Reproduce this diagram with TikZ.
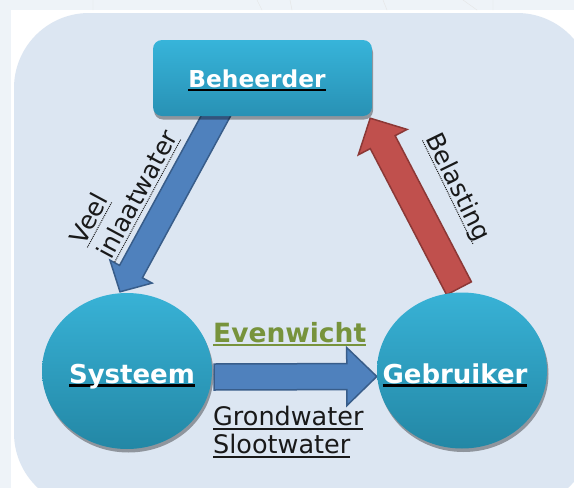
\documentclass[tikz,border=0pt]{standalone}
\usepackage{fontspec}
\setmainfont{DejaVu Sans}
\usetikzlibrary{calc,shapes.geometric,shadows}

\definecolor{outerblue}{RGB}{238,243,248}
\definecolor{panelblue}{RGB}{220,230,242}
\definecolor{boxtop}{RGB}{55,180,218}
\definecolor{boxbot}{RGB}{40,145,180}
\definecolor{ringtop}{RGB}{56,178,214}
\definecolor{ringbot}{RGB}{35,135,165}
\definecolor{flowblue}{RGB}{79,129,189}
\definecolor{flowblueline}{RGB}{56,93,138}
\definecolor{loadred}{RGB}{192,80,77}
\definecolor{loadredline}{RGB}{140,56,54}
\definecolor{balancegreen}{RGB}{119,147,60}
\definecolor{inkdark}{RGB}{25,25,25}

\pgfdeclarelayer{back}
\pgfdeclarelayer{mid}
\pgfsetlayers{back,mid,main}

% solid underline: colour, thickness, text
\newcommand{\solidul}[3]{\setbox0=\hbox{#3}\rlap{\color{#1}\rule[-4pt]{\wd0}{#2}}\box0}
% dotted underline
\newcommand{\dotul}[1]{\setbox0=\hbox{#1}\rlap{\raisebox{-4pt}{\hbox to \wd0{\leaders\hbox to 2pt{\hss\rule{1pt}{1pt}\hss}\hfill}}}\box0}
% block arrow: style, from, to, half body, half head, head length
\newcommand{\blockarrow}[6]{%
  \coordinate (hb) at ($(#3)!#6!(#2)$);
  \path[#1] ($(#2)!#4!90:(#3)$) -- ($(hb)!#4!-90:(#2)$) -- ($(hb)!#5!-90:(#2)$) -- (#3)
    -- ($(hb)!#5!90:(#2)$) -- ($(hb)!#4!90:(#2)$) -- ($(#2)!#4!-90:(#3)$) -- cycle;}

\begin{document}
\begin{tikzpicture}[x=1pt,y=-1pt,
    headbox/.style={rectangle,rounded corners=9pt,minimum width=219pt,minimum height=76pt,
      top color=boxtop,bottom color=boxbot,
      drop shadow={shadow xshift=1pt,shadow yshift=-3.5pt,opacity=.35,fill=black}},
    ringnode/.style={ellipse,minimum width=170pt,minimum height=156pt,
      top color=ringtop,bottom color=ringbot,
      drop shadow={shadow xshift=1.5pt,shadow yshift=-3.5pt,opacity=.35,fill=black}},
    nametext/.style={inner sep=0pt,anchor=base,text=white,font=\fontsize{26}{30}\selectfont\bfseries},
    flowtext/.style={inner sep=0pt,anchor=base west,text=inkdark,font=\fontsize{25}{31}\selectfont},
    bluearrow/.style={fill=flowblue,draw=flowblueline,line width=1.5pt},
    redarrow/.style={fill=loadred,draw=loadredline,line width=1.5pt}]
  \useasboundingbox (0,0) rectangle (574,488);

  % background and panel
  \begin{pgfonlayer}{back}
    \fill[outerblue] (0,0) rectangle (574,488);
    \fill[white] (11,10) rectangle (574,488);
    \draw[black!10] (93,0) -- (93,10) (257,0) -- (262,10) (290,0) -- (292,10)
      (383,0) -- (387,10) (463,0) -- (477,10) (493,0) -- (493,10);
    \begin{scope}
      \clip (0,0) rectangle (574,488);
      \fill[panelblue,rounded corners=75pt] (14,13) rectangle (592,508);
    \end{scope}
  \end{pgfonlayer}

  % actors
  \node[headbox] (beh) at (262.5,78) {};
  \node[ringnode] (sys) at (127,371) {};
  \node[ringnode] (geb) at (462,370.5) {};

  \node[nametext,font=\fontsize{23.3}{28}\selectfont\bfseries] (behtxt) at ($(beh.center)+(-5.5,9)$)
    {\solidul{black}{2.4pt}{Beheerder}};
  \node[nametext] (systxt) at ($(sys.center)+(5,12)$) {\solidul{black}{2.6pt}{Systeem}};
  \node[nametext] (gebtxt) at ($(geb.center)+(-7,12.5)$) {\solidul{black}{2.6pt}{Gebruiker}};

  % flows
  \begin{pgfonlayer}{mid}
    \coordinate (inlaatstart) at ($(beh.south)+(-37,-18)$);
    \coordinate (inlaattip) at ($(sys.north)+(-7,-1)$);
    \blockarrow{bluearrow}{inlaatstart}{inlaattip}{13pt}{24pt}{23pt}
    \coordinate (laststart) at ($(geb.north)+(-3,-4)$);
    \coordinate (lasttip) at ($(beh.south east)+(-2,2)$);
    \blockarrow{redarrow}{laststart}{lasttip}{14pt}{27.5pt}{27pt}
    \coordinate (waterstart) at ($(sys.east)+(2,6)$);
    \coordinate (watertip) at ($(geb.west)+(0,6)$);
    \blockarrow{bluearrow}{waterstart}{watertip}{13pt}{29pt}{30pt}
  \end{pgfonlayer}

  % flow labels
  \node[flowtext,align=left,anchor=south west,rotate=61.7] (inlaat) at (115,263)
    {\dotul{Veel}\\\dotul{inlaatwater}};
  \node[flowtext,rotate=-64] (belasting) at (425.3,138.3) {\dotul{Belasting}};
  \node[flowtext,text=balancegreen,font=\fontsize{26.5}{30}\selectfont\bfseries] (evenwicht) at (213,342)
    {\solidul{balancegreen}{2.4pt}{Evenwicht}};
  \node[flowtext,font=\fontsize{25.5}{31}\selectfont,align=left,anchor=north west] (water) at (213,406)
    {\solidul{inkdark}{1.8pt}{Grondwater}\\[-3pt]\solidul{inkdark}{1.8pt}{Slootwater}};
\end{tikzpicture}
\end{document}
